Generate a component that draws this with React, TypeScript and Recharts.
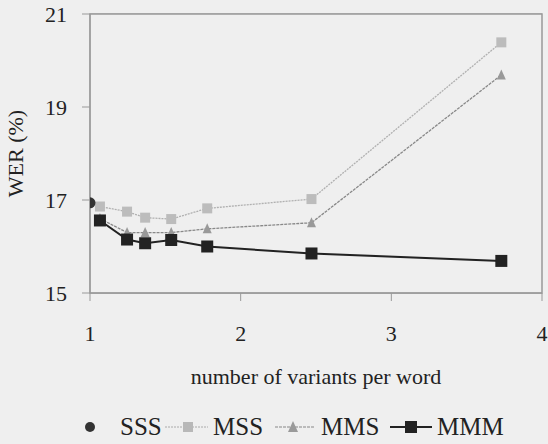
import React from 'react';
import { LineChart, Line, XAxis, YAxis, CartesianGrid, Legend, ReferenceArea } from 'recharts';

const variants = [1.066, 1.246, 1.366, 1.539, 1.778, 2.47, 3.73];
const sssX = [1];
const sssWer = [16.94];
const mssWer = [16.86, 16.75, 16.62, 16.59, 16.82, 17.02, 20.39];
const mmsWer = [16.6, 16.3, 16.3, 16.3, 16.38, 16.51, 19.69];
const mmmWer = [16.56, 16.15, 16.07, 16.14, 16.0, 15.85, 15.69];
const xTicks = [1, 2, 3, 4];
const yTicks = [15, 17, 19, 21];

const sssData = sssX.map((x, i) => ({ x, y: sssWer[i] }));
const mssData = variants.map((x, i) => ({ x, y: mssWer[i] }));
const mmsData = variants.map((x, i) => ({ x, y: mmsWer[i] }));
const mmmData = variants.map((x, i) => ({ x, y: mmmWer[i] }));

const FONT = 'Liberation Serif';
const BG = '#efefef';
const TXT = '#222';

const SquareDot = (size: number, fill: string) => (props: any) => {
  const { cx, cy, index } = props;
  if (cx == null || cy == null) return <g key={index} />;
  return <rect key={index} x={cx - size / 2} y={cy - size / 2} width={size} height={size} fill={fill} />;
};
const TriDot = (size: number, fill: string) => (props: any) => {
  const { cx, cy, index } = props;
  if (cx == null || cy == null) return <g key={index} />;
  return (
    <polygon
      key={index}
      points={`${cx},${cy - size / 2 - 1} ${cx - size / 2},${cy + size / 2} ${cx + size / 2},${cy + size / 2}`}
      fill={fill}
    />
  );
};

const LegendContent = () => {
  const text = (label: string, left: number) => (
    <span style={{ position: 'absolute', left, top: 0, lineHeight: '34px' }}>{label}</span>
  );
  return (
    <div style={{ position: 'relative', height: 34, fontFamily: FONT, fontSize: 25, color: TXT }}>
      <svg width={548} height={34} style={{ position: 'absolute', left: 0, top: 0 }}>
        <circle cx={90} cy={17} r={5} fill="#333" />
        <line x1={165} y1={17} x2={208} y2={17} stroke="#aaa" strokeWidth={1} strokeDasharray="2 1" />
        <rect x={183} y={12} width={10} height={10} fill="#b8b8b8" />
        <line x1={275} y1={17} x2={315} y2={17} stroke="#888" strokeWidth={1.2} strokeDasharray="3 1" />
        <polygon points="293,11 288,22 298,22" fill="#9a9a9a" />
        <line x1={390} y1={17} x2={432} y2={17} stroke={TXT} strokeWidth={2} />
        <rect x={405} y={11} width={12} height={12} fill={TXT} />
      </svg>
      {text('SSS', 120)}
      {text('MSS', 213)}
      {text('MMS', 321)}
      {text('MMM', 437)}
    </div>
  );
};

export default function App() {
  return (
    <div style={{ position: 'absolute', left: 0, top: 0, width: 548, height: 444, background: BG, fontFamily: FONT }}>
      <LineChart width={548} height={444} margin={{ top: 14, right: 6, left: 0, bottom: 0 }} style={{ fontFamily: FONT }}>
        <ReferenceArea x1={1} x2={4} y1={15} y2={21} fill={BG} fillOpacity={1} stroke="#999" strokeWidth={1.5} />
        <CartesianGrid vertical={false} stroke="#9a9a9a" strokeWidth={1} />
        <XAxis
          type="number"
          dataKey="x"
          domain={[1, 4]}
          ticks={xTicks}
          allowDataOverflow
          tickSize={8}
          tickMargin={24}
          stroke="#999"
          tick={{ fill: TXT, fontSize: 22, fontFamily: FONT }}
          height={117}
          label={{ value: 'number of variants per word', position: 'insideBottom', offset: 26, fill: TXT, fontSize: 22, fontFamily: FONT }}
        />
        <YAxis
          type="number"
          domain={[15, 21]}
          ticks={yTicks}
          allowDataOverflow
          tickSize={8}
          tickMargin={15}
          stroke="#999"
          width={90}
          tick={{ fill: TXT, fontSize: 22, fontFamily: FONT }}
          label={{ value: 'WER (%)', angle: -90, position: 'insideLeft', offset: 15, fill: TXT, fontSize: 22, fontFamily: FONT, style: { textAnchor: 'middle' } }}
        />
        <Legend verticalAlign="bottom" content={<LegendContent />} height={34} />
        <Line data={mssData} dataKey="y" name="MSS" stroke="#b0b0b0" strokeWidth={1.3} strokeDasharray="2 1" dot={SquareDot(10, '#bcbcbc')} isAnimationActive={false} />
        <Line data={mmsData} dataKey="y" name="MMS" stroke="#888" strokeWidth={1.3} strokeDasharray="3 1" dot={TriDot(9, '#999')} isAnimationActive={false} />
        <Line data={mmmData} dataKey="y" name="MMM" stroke={TXT} strokeWidth={2} dot={SquareDot(12, TXT)} isAnimationActive={false} />
        <Line data={sssData} dataKey="y" name="SSS" stroke="none" dot={{ r: 5.5, fill: '#333', stroke: 'none' }} isAnimationActive={false} />
      </LineChart>
    </div>
  );
}
